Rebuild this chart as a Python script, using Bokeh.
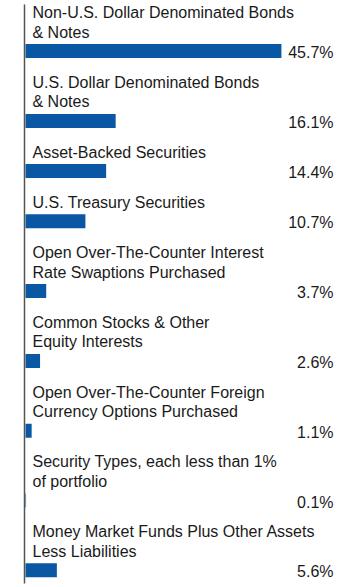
from bokeh.plotting import figure
from bokeh.models import Range1d, ColumnDataSource
from bokeh.core.properties import value
from bokeh.embed import file_html
from bokeh.resources import INLINE

categories = [
    "Non-U.S. Dollar Denominated Bonds\n& Notes",
    "U.S. Dollar Denominated Bonds\n& Notes",
    "Asset-Backed Securities",
    "U.S. Treasury Securities",
    "Open Over-The-Counter Interest\nRate Swaptions Purchased",
    "Common Stocks & Other\nEquity Interests",
    "Open Over-The-Counter Foreign\nCurrency Options Purchased",
    "Security Types, each less than 1%\nof portfolio",
    "Money Market Funds Plus Other Assets\nLess Liabilities",
]
values = [45.7, 16.1, 14.4, 10.7, 3.7, 2.6, 1.1, 0.1, 5.6]
value_labels = ["45.7%", "16.1%", "14.4%", "10.7%", "3.7%", "2.6%", "1.1%", "0.1%", "5.6%"]

W, H = 360, 587
X0 = 25          # pixel where bars start
PX_PER = 5.6     # pixels per percent
LH = 19.6        # label line height
FONT = "Liberation Sans"
FS = "16px"
BAR_COLOR = "#0a57a4"
TEXT_COLOR = "#1a1a1a"
TEXT_SHIFT = -6.0  # compensation for rendered baseline

def px_to_x(px):
    return (px - X0) / PX_PER

# layout rows from label line counts
line_x, line_y, line_t = [], [], []
bar_y = []
start = 18.0
for cat in categories:
    lines = cat.split("\n")
    for j, ln in enumerate(lines):
        line_x.append(px_to_x(32))
        line_y.append(start + LH * j + TEXT_SHIFT)
        line_t.append(ln)
    last = start + LH * (len(lines) - 1)
    c = last + 13.0
    bar_y.append(c)
    start = c + 37.2

p = figure(width=W, height=H, output_backend="svg", toolbar_location=None,
           x_range=Range1d(px_to_x(0), px_to_x(W)), y_range=Range1d(H, 0),
           min_border=0, outline_line_color=None)
p.axis.visible = False
p.grid.visible = False
p.background_fill_color = "white"
p.border_fill_color = "white"

bars = ColumnDataSource(dict(y=bar_y, right=values, lab=value_labels,
                             lx=[px_to_x(333)] * len(values),
                             ly=[b + 7.5 + TEXT_SHIFT for b in bar_y]))
p.hbar(y="y", left=0, right="right", height=14, source=bars,
       fill_color=BAR_COLOR, line_color=None)

# axis line
p.segment(x0=[px_to_x(24)], y0=[4], x1=[px_to_x(24)], y1=[583],
          line_color="#555555", line_width=1.5)

p.text(x=line_x, y=line_y, text=line_t, text_font=value(FONT),
       text_font_size=FS, text_color=TEXT_COLOR, text_baseline="alphabetic",
       text_align="left")
p.text(x="lx", y="ly", text="lab", source=bars, text_font=value(FONT),
       text_font_size=FS, text_color=TEXT_COLOR, text_baseline="alphabetic",
       text_align="right")

open("out.html", "w").write(file_html(p, INLINE))
